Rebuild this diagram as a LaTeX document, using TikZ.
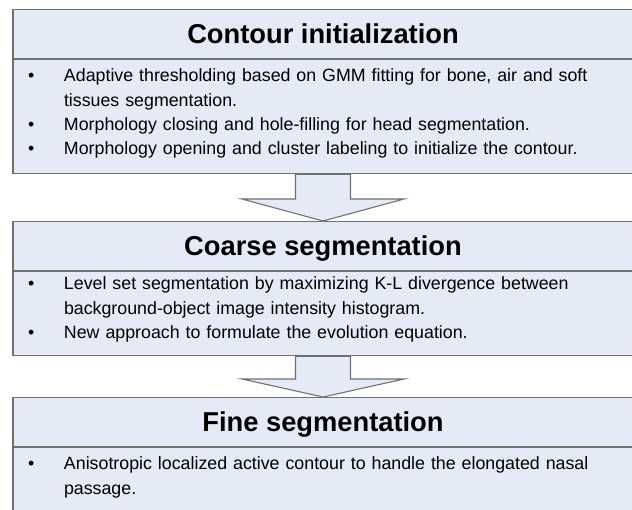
\documentclass[tikz,border=0pt]{standalone}
\usepackage{fontspec}
\setmainfont{Liberation Sans}
\usetikzlibrary{positioning}

\definecolor{boxblue}{RGB}{229,235,246}
\definecolor{linegray}{RGB}{112,112,112}

% voce puntata con rientro sospeso
\newcommand\bitem{\par\noindent\hangindent=36pt\hangafter=1\makebox[36pt][l]{\textbullet}}

\tikzset{
    header/.style={draw=linegray, fill=boxblue, line width=1.1pt, minimum width=620pt,
        minimum height=49pt, inner sep=0pt, text height=19pt, text depth=0pt,
        font=\bfseries\fontsize{27.3}{30}\selectfont},
    body/.style={draw=linegray, fill=boxblue, line width=1.1pt, minimum width=620pt,
        text width=590pt, inner xsep=15pt, inner ysep=0pt, align=left,
        font=\fontsize{17.8}{24.4}\selectfont},
    flowarrow/.style={draw=linegray, fill=boxblue, line width=1.1pt, line join=miter}
}

\begin{document}
\begin{tikzpicture}

    \useasboundingbox (0pt,0pt) rectangle (632pt,-509pt);
    \clip (0pt,0pt) rectangle (632pt,-509pt);

    % Primo blocco: inizializzazione del contorno
    \node[header, anchor=north] (h1) at (323pt,-9pt) {Contour initialization};
    \node[body, minimum height=114pt, below=0pt of h1] (b1) {\vspace*{-8pt}%
        \bitem Adaptive thresholding based on GMM fitting for bone, air and soft\newline
        tissues segmentation.
        \bitem Morphology closing and hole-filling for head segmentation.
        \bitem Morphology opening and cluster labeling to initialize the contour.\rule[-13pt]{0pt}{13pt}\par};

    % Secondo blocco: segmentazione grossolana
    \node[header, anchor=north] (h2) at (323pt,-221pt) {Coarse segmentation};
    \node[body, minimum height=84pt, below=0pt of h2] (b2) {\vspace*{-13pt}%
        \bitem Level set segmentation by maximizing K-L divergence between\newline
        background-object image intensity histogram.
        \bitem New approach to formulate the evolution equation.\rule[-10pt]{0pt}{10pt}\par};

    % Terzo blocco: segmentazione fine
    \node[header, anchor=north] (h3) at (323pt,-397pt) {Fine segmentation};
    \node[body, minimum height=100pt, below=0pt of h3] (b3) {\vspace*{-8pt}%
        \bitem Anisotropic localized active contour to handle the elongated nasal\newline
        passage.\rule[-48pt]{0pt}{48pt}\par};

    % Frecce a blocco tra i riquadri
    \draw[flowarrow] ([xshift=-27.5pt]b1.south) |- ([xshift=-81pt,yshift=22pt]h2.north)
        -- (h2.north) -- ([xshift=81pt,yshift=22pt]h2.north) -| ([xshift=27.5pt]b1.south) -- cycle;
    \draw[flowarrow] ([xshift=-27.5pt]b2.south) |- ([xshift=-81pt,yshift=18pt]h3.north)
        -- (h3.north) -- ([xshift=81pt,yshift=18pt]h3.north) -| ([xshift=27.5pt]b2.south) -- cycle;

\end{tikzpicture}
\end{document}
